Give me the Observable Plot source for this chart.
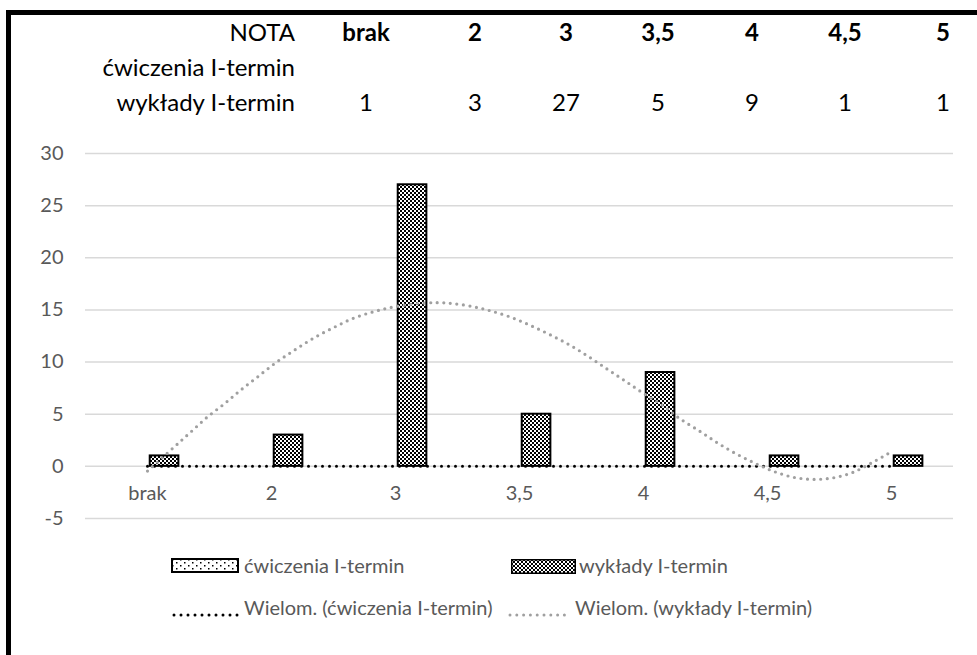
<!DOCTYPE html>
<html>
<head>
<meta charset="utf-8">
<script src="https://cdn.jsdelivr.net/npm/d3@7"></script>
<script src="https://cdn.jsdelivr.net/npm/@observablehq/plot@0.6"></script>
<style>
  html, body { margin: 0; padding: 0; background: #fff; }
  #page { position: relative; width: 977px; height: 655px; overflow: hidden; background: #fff; font-family: Lato, "Open Sans", sans-serif; }
  #frame { position: absolute; left: 6px; top: 10px; right: -10px; bottom: -10px; border-left: 5px solid #000; border-top: 5px solid #000; }
  .t { position: absolute; font-size: 24px; color: #000; white-space: nowrap; line-height: 1; }
  .lab { transform: translate(-100%, -50%); }
  .val { transform: translate(-50%, -50%); }
  .b { font-weight: bold; }
  #chart { position: absolute; left: 0; top: 130px; }
  .lg { position: absolute; font-size: 20px; color: #595959; white-space: nowrap; line-height: 1; transform: translateY(-50%); }
  .sw { position: absolute; }
</style>
</head>
<body>
<div id="page">
  <div id="frame"></div>
  <div id="chart"></div>
</div>
<script>
// ---- data ----
const categories = ["brak", "2", "3", "3,5", "4", "4,5", "5"];
const cwiczenia = [null, null, null, null, null, null, null];
const wyklady = [1, 3, 27, 5, 9, 1, 1];
const yTicks = [-5, 0, 5, 10, 15, 20, 25, 30];
// polynomial trendline of "ćwiczenia" (empty series -> flat 0)
const cwTrend = [0, 0, 0, 0, 0, 0, 0];
// polynomial trendline of "wykłady" (x = category index)
const wyTrendX = [0, 0.21, 0.35, 0.48, 0.62, 0.75, 0.88, 1.03, 1.18, 1.34, 1.5, 1.66, 1.83, 1.99, 2.17, 2.34, 2.47, 2.63, 2.77, 2.93, 3.09, 3.25, 3.41, 3.56, 3.71, 3.85, 4.0, 4.16, 4.29, 4.45, 4.59, 4.74, 4.9, 5.05, 5.21, 5.37, 5.53, 5.69, 5.85, 5.97, 6.0];
const wyTrendY = [-0.45, 1.8, 3.3, 4.7, 6.0, 7.3, 8.5, 9.9, 11.1, 12.3, 13.3, 14.2, 14.85, 15.3, 15.6, 15.7, 15.6, 15.3, 14.9, 14.3, 13.5, 12.6, 11.6, 10.5, 9.3, 8.2, 7.0, 5.8, 4.6, 3.4, 2.3, 1.25, 0.3, -0.48, -1.05, -1.25, -1.1, -0.57, 0.4, 1.2, 1.4];
// table above the chart
const tableHeader = "NOTA";
const rowLabels = ["ćwiczenia I-termin", "wykłady I-termin"];
const seriesNames = ["ćwiczenia I-termin", "wykłady I-termin"];
const trendNames = ["Wielom. (ćwiczenia I-termin)", "Wielom. (wykłady I-termin)"];

// ---- table (layout) ----
const page = document.getElementById("page");
const colX = [366, 475, 566, 658, 752, 845, 943];
const rowY = [32, 67, 102];
const labelRight = 295;
function addText(cls, txt, x, y) {
  const d = document.createElement("div");
  d.className = "t " + cls;
  d.textContent = txt;
  d.style.left = x + "px";
  d.style.top = y + "px";
  page.appendChild(d);
}
addText("lab", tableHeader, labelRight, rowY[0]);
addText("lab", rowLabels[0], labelRight, rowY[1]);
addText("lab", rowLabels[1], labelRight, rowY[2]);
categories.forEach((c, i) => {
  addText("val b", c, colX[i], rowY[0]);
  if (cwiczenia[i] != null) addText("val", String(cwiczenia[i]), colX[i], rowY[1]);
  if (wyklady[i] != null) addText("val", String(wyklady[i]), colX[i], rowY[2]);
});

// ---- chart ----
const bars = categories.map((c, i) => ({i, c, v: wyklady[i]})).filter(d => d.v != null);
const cwTrendData = cwTrend.map((v, i) => ({x: i, y: v}));
const wyTrendData = wyTrendX.map((x, k) => ({x, y: wyTrendY[k]}));

const chart = Plot.plot({
  width: 977,
  height: 410,
  marginTop: 23,
  marginBottom: 22,
  marginLeft: 85,
  marginRight: 24,
  style: {color: "#595959", fontFamily: "Lato, 'Open Sans', sans-serif", background: "transparent", overflow: "visible"},
  x: {type: "linear", domain: [-0.5, 6.5], axis: null},
  y: {domain: [-5, 30], axis: null},
  marks: [
    Plot.ruleY(yTicks, {stroke: "#d9d9d9", strokeWidth: 1.5}),
    Plot.axisY({ticks: yTicks, tickSize: 0, tickPadding: 22, fontSize: 20, tickFormat: d => String(d), fill: "#595959"}),
    Plot.text(categories, {x: (d, i) => i, y: 0, dy: 27, text: d => d, fontSize: 20, fill: "#595959"}),
    Plot.rectY(bars, {x1: d => d.i + 0.022, x2: d => d.i + 0.253, y1: 0, y2: "v", fill: "url(#chk)", stroke: "#000", strokeWidth: 2}),
    Plot.line(cwTrendData, {x: "x", y: "y", stroke: "#000", strokeWidth: 3, strokeDasharray: "0 7", strokeLinecap: "round"}),
    Plot.line(wyTrendData, {x: "x", y: "y", curve: "catmull-rom", stroke: "#a0a0a0", strokeWidth: 3.2, strokeDasharray: "0 6.6", strokeLinecap: "round"})
  ]
});
chart.insertAdjacentHTML("afterbegin",
  '<defs><pattern id="chk" width="4" height="4" patternUnits="userSpaceOnUse">' +
  '<rect width="4" height="4" fill="#fff"/><rect width="2" height="2" fill="#000"/>' +
  '<rect x="2" y="2" width="2" height="2" fill="#000"/></pattern></defs>');
document.getElementById("chart").appendChild(chart);

// ---- legend ----
function addLegendText(txt, x, y) {
  const d = document.createElement("div");
  d.className = "lg";
  d.textContent = txt;
  d.style.left = x + "px";
  d.style.top = y + "px";
  page.appendChild(d);
}
function addSwatch(svg, x, y, w, h) {
  const d = document.createElement("div");
  d.className = "sw";
  d.style.left = x + "px";
  d.style.top = y + "px";
  d.innerHTML = `<svg width="${w}" height="${h}" xmlns="http://www.w3.org/2000/svg">${svg}</svg>`;
  page.appendChild(d);
}
const ly1 = 565, ly2 = 607;
addSwatch('<defs><pattern id="dots" width="8" height="6" patternUnits="userSpaceOnUse"><rect width="8" height="6" fill="#fff"/><rect x="1" y="1" width="1.5" height="1.5" fill="#000"/><rect x="5" y="4" width="1.5" height="1.5" fill="#000"/></pattern></defs><rect x="1" y="1" width="66" height="13" fill="url(#dots)" stroke="#000" stroke-width="2"/>', 171, ly1 - 8, 68, 15);
addLegendText(seriesNames[0], 244, ly1);
addSwatch('<defs><pattern id="chk2" width="4" height="4" patternUnits="userSpaceOnUse"><rect width="4" height="4" fill="#fff"/><rect width="2" height="2" fill="#000"/><rect x="2" y="2" width="2" height="2" fill="#000"/></pattern></defs><rect x="0.75" y="0.75" width="63.5" height="13.5" fill="url(#chk2)" stroke="#000" stroke-width="1.5"/>', 511, ly1 - 7.5, 65, 15);
addLegendText(seriesNames[1], 579, ly1);
addSwatch('<line x1="2" y1="4" x2="66" y2="4" stroke="#000" stroke-width="3" stroke-dasharray="0 7" stroke-linecap="round"/>', 172, ly2 - 4, 68, 8);
addLegendText(trendNames[0], 244, ly2);
addSwatch('<line x1="2" y1="4" x2="63" y2="4" stroke="#a0a0a0" stroke-width="3" stroke-dasharray="0 6.8" stroke-linecap="round"/>', 508, ly2 - 4, 66, 8);
addLegendText(trendNames[1], 575, ly2);
</script>
</body>
</html>
